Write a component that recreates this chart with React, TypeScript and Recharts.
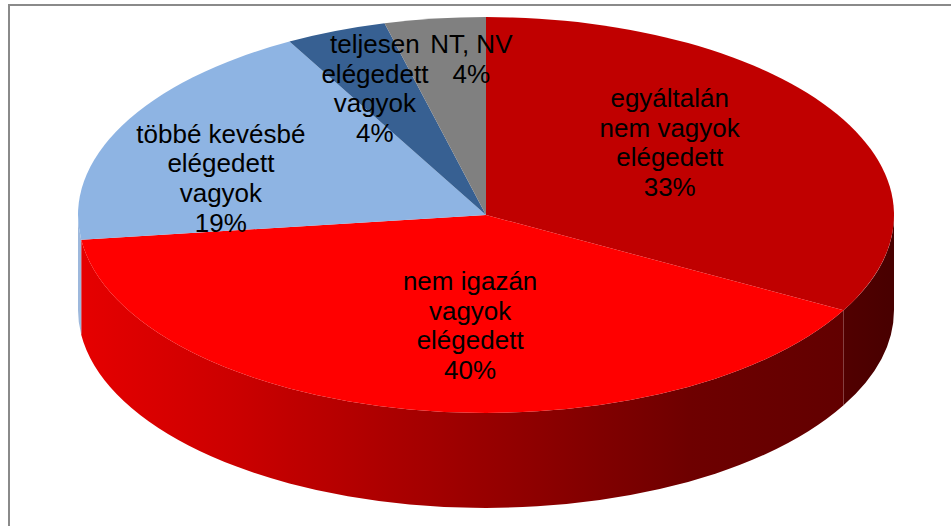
import React from 'react';
import { PieChart, Pie, Cell } from 'recharts';

const categories = [
  'egyáltalán nem vagyok elégedett',
  'nem igazán vagyok elégedett',
  'többé kevésbé elégedett vagyok',
  'teljesen elégedett vagyok',
  'NT, NV',
];
const values = [33, 40, 19, 4, 4];
const labelLines = [
  ['egyáltalán', 'nem vagyok', 'elégedett'],
  ['nem igazán', 'vagyok', 'elégedett'],
  ['többé kevésbé', 'elégedett', 'vagyok'],
  ['teljesen', 'elégedett', 'vagyok'],
  ['NT, NV'],
];
const topColors = ['#C00000', '#FF0000', '#8EB4E3', '#376092', '#808080'];
const sideColors = ['url(#darkRedSide)', 'url(#redSide)', '#9DB8DC', '#24406A', '#5A5A5A'];

const data = categories.map((name, i) => ({ name, value: values[i] }));

const CX = 486;
const CY = 215;
const R = 408;
const K = 0.485;
const DEPTH = 95;
const RAD = Math.PI / 180;
const LABEL_F = 0.6;
const labelNudge = [
  [-27, -12],
  [30, -6],
  [-47, 17],
  [-21, -16],
  [16, -38],
];

function ellPt(cx: number, cy: number, rx: number, ry: number, deg: number) {
  const r = deg * RAD;
  return [cx + rx * Math.cos(r), cy - ry * Math.sin(r)];
}

function TopShape(props: any) {
  const { cx, cy, outerRadius, startAngle, endAngle, fill } = props;
  const rx = outerRadius;
  const ry = outerRadius * K;
  const a1 = Math.max(startAngle, endAngle);
  const a0 = Math.min(startAngle, endAngle);
  const [x1, y1] = ellPt(cx, cy, rx, ry, a1);
  const [x2, y2] = ellPt(cx, cy, rx, ry, a0);
  const large = a1 - a0 > 180 ? 1 : 0;
  return (
    <path
      d={`M${cx},${cy} L${x1},${y1} A${rx},${ry} 0 ${large} 1 ${x2},${y2} Z`}
      fill={fill}
      stroke="none"
    />
  );
}

function SideShape(props: any) {
  const { cx, cy, outerRadius, startAngle, endAngle, fill } = props;
  const rx = outerRadius;
  const ry = outerRadius * K;
  const a1 = Math.max(startAngle, endAngle);
  const a0 = Math.min(startAngle, endAngle);
  const paths: string[] = [];
  for (let k = -2; k <= 2; k++) {
    const lo = Math.max(a0, -180 + 360 * k);
    const hi = Math.min(a1, 360 * k);
    if (hi - lo > 0.01) {
      const [xh, yh] = ellPt(cx, cy, rx, ry, hi);
      const [xl, yl] = ellPt(cx, cy, rx, ry, lo);
      const large = hi - lo > 180 ? 1 : 0;
      paths.push(
        `M${xh},${yh} A${rx},${ry} 0 ${large} 1 ${xl},${yl} L${xl},${yl + DEPTH} A${rx},${ry} 0 ${large} 0 ${xh},${yh + DEPTH} Z`
      );
    }
  }
  if (!paths.length) return <g />;
  return <path d={paths.join(' ')} fill={fill} stroke="none" />;
}

function renderLabel(p: any) {
  const { cx, cy, outerRadius, midAngle, index, value } = p;
  const r = midAngle * RAD;
  const x = cx + outerRadius * LABEL_F * Math.cos(r) + labelNudge[index][0];
  const yc = cy - outerRadius * K * LABEL_F * Math.sin(r) + labelNudge[index][1];
  const lines = [...labelLines[index], `${value}%`];
  const lh = 29.7;
  const y0 = yc - ((lines.length - 1) * lh) / 2 + 9;
  return (
    <text
      x={x}
      y={y0}
      textAnchor="middle"
      fontFamily="'Liberation Sans', Arial, sans-serif"
      fontSize={26}
      fill="#000"
    >
      {lines.map((l, j) => (
        <tspan key={j} x={x} dy={j === 0 ? 0 : lh}>
          {l}
        </tspan>
      ))}
    </text>
  );
}

export default function App() {
  return (
    <div style={{ position: 'absolute', left: 0, top: 0, width: 951, height: 526, overflow: 'hidden', background: '#fff' }}>
      <svg width={0} height={0} style={{ position: 'absolute' }}>
        <defs>
          <linearGradient id="redSide" gradientUnits="userSpaceOnUse" x1={78} y1={0} x2={843} y2={0}>
            <stop offset="0" stopColor="#E60000" />
            <stop offset="0.2" stopColor="#CC0000" />
            <stop offset="0.55" stopColor="#950000" />
            <stop offset="0.8" stopColor="#6E0000" />
            <stop offset="1" stopColor="#620000" />
          </linearGradient>
          <linearGradient id="darkRedSide" gradientUnits="userSpaceOnUse" x1={840} y1={0} x2={894} y2={0}>
            <stop offset="0" stopColor="#520000" />
            <stop offset="1" stopColor="#480000" />
          </linearGradient>
        </defs>
      </svg>
      <div
        style={{
          position: 'absolute',
          left: 8,
          top: 4,
          width: 960,
          height: 540,
          border: '2px solid #8A8A8A',
        }}
      />
      <div style={{ position: 'absolute', left: 0, top: 0 }}>
        <PieChart width={951} height={526} margin={{ top: 0, right: 0, bottom: 0, left: 0 }}>
          <Pie
            data={data}
            dataKey="value"
            nameKey="name"
            cx={CX}
            cy={CY}
            outerRadius={R}
            startAngle={90}
            endAngle={-270}
            stroke="none"
            isAnimationActive={false}
            shape={SideShape}
            activeShape={SideShape}
            label={false}
            labelLine={false}
          >
            {data.map((d, i) => (
              <Cell key={d.name} fill={sideColors[i]} />
            ))}
          </Pie>
          <Pie
            data={data}
            dataKey="value"
            nameKey="name"
            cx={CX}
            cy={CY}
            outerRadius={R}
            startAngle={90}
            endAngle={-270}
            stroke="none"
            isAnimationActive={false}
            shape={TopShape}
            activeShape={TopShape}
            label={renderLabel}
            labelLine={false}
          >
            {data.map((d, i) => (
              <Cell key={d.name} fill={topColors[i]} />
            ))}
          </Pie>
        </PieChart>
      </div>
    </div>
  );
}
